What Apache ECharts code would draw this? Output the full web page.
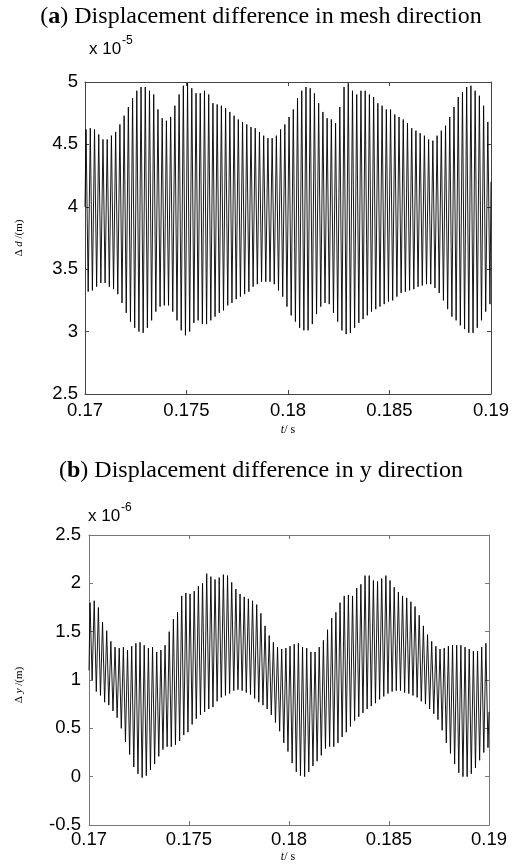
<!DOCTYPE html>
<html><head><meta charset="utf-8">
<script src="https://cdn.jsdelivr.net/npm/echarts@6/dist/echarts.min.js"></script>
<style>html,body{margin:0;padding:0;background:#fff}#c{width:513px;height:865px}</style>
</head><body><div id="c"></div>
<script>
// Time span and tick labels
const tStart = 0.17, tEnd = 0.19;
const xTickLabels = ['0.17', '0.175', '0.18', '0.185', '0.19'];
const meshTickLabels = ['2.5', '3', '3.5', '4', '4.5', '5'];
const yTickLabels = ['-0.5', '0', '0.5', '1', '1.5', '2', '2.5'];

// (a) mesh direction, units of 1e-5 m: one peak and one trough per cycle
const meshStart = 4.0, meshEnd = 4.2;
const meshPeaks = [
  4.62,4.63,4.62,4.58,4.54,4.54,4.57,4.60,4.66,4.73,
  4.80,4.87,4.93,4.96,4.96,4.93,4.90,4.78,4.71,4.69,
  4.72,4.81,4.90,4.97,4.99,4.95,4.91,4.91,4.93,4.90,
  4.83,4.82,4.81,4.79,4.76,4.73,4.70,4.68,4.66,4.64,
  4.63,4.60,4.57,4.55,4.55,4.57,4.62,4.66,4.72,4.78,
  4.87,4.93,4.96,4.95,4.91,4.83,4.76,4.71,4.70,4.67,
  4.80,4.96,4.99,4.93,4.90,4.93,4.93,4.90,4.88,4.83,
  4.81,4.78,4.78,4.74,4.72,4.70,4.67,4.63,4.61,4.59,
  4.57,4.54,4.53,4.57,4.61,4.65,4.72,4.80,4.88,4.92,
  4.96,4.97,4.93,4.89,4.81,4.68
];
const meshTroughs = [
  3.32,3.33,3.36,3.39,3.39,3.36,3.34,3.30,3.23,3.15,
  3.08,3.03,3.00,2.99,3.03,3.09,3.16,3.20,3.21,3.21,
  3.16,3.09,3.01,2.97,3.00,3.07,3.09,3.06,3.06,3.09,
  3.12,3.15,3.17,3.21,3.23,3.26,3.28,3.30,3.32,3.36,
  3.38,3.40,3.40,3.40,3.38,3.33,3.28,3.20,3.13,3.08,
  3.03,3.01,3.01,3.06,3.14,3.20,3.23,3.22,3.15,3.08,
  3.01,2.98,2.99,3.03,3.07,3.10,3.13,3.16,3.18,3.20,
  3.22,3.24,3.25,3.28,3.31,3.32,3.33,3.34,3.36,3.37,
  3.38,3.38,3.35,3.31,3.25,3.18,3.12,3.09,3.05,3.02,
  2.99,2.99,3.03,3.09,3.16,3.22
];

// (b) y direction, units of 1e-6 m
const yStart = 1.1, yEnd = 0.67;
const yPeaks = [
  1.80,1.82,1.75,1.60,1.51,1.40,1.34,1.33,1.34,1.31,
  1.35,1.38,1.39,1.36,1.33,1.34,1.29,1.31,1.36,1.50,
  1.63,1.70,1.87,1.90,1.89,1.92,1.97,2.00,2.10,2.07,
  2.04,2.06,2.09,2.08,2.01,1.94,1.89,1.86,1.84,1.82,
  1.78,1.69,1.56,1.46,1.39,1.34,1.32,1.33,1.35,1.37,
  1.38,1.34,1.33,1.29,1.29,1.34,1.41,1.52,1.64,1.70,
  1.80,1.87,1.88,1.87,1.95,1.99,2.08,2.08,2.03,2.02,
  2.05,2.08,2.03,1.96,1.91,1.87,1.85,1.81,1.76,1.67,
  1.56,1.47,1.40,1.35,1.32,1.33,1.35,1.36,1.36,1.36,
  1.34,1.32,1.30,1.30,1.34,1.38
];
const yTroughs = [
  1.00,0.88,0.84,0.77,0.74,0.68,0.61,0.50,0.36,0.23,
  0.10,0.03,-0.01,0.01,0.07,0.13,0.21,0.28,0.31,0.31,
  0.33,0.37,0.43,0.46,0.54,0.60,0.64,0.67,0.70,0.72,
  0.78,0.82,0.84,0.86,0.89,0.90,0.89,0.87,0.85,0.81,
  0.77,0.74,0.70,0.64,0.56,0.47,0.35,0.26,0.14,0.05,
  0.01,0.00,0.05,0.11,0.16,0.22,0.29,0.31,0.31,0.35,
  0.41,0.46,0.52,0.58,0.62,0.66,0.70,0.73,0.76,0.80,
  0.83,0.86,0.88,0.89,0.89,0.87,0.86,0.84,0.82,0.78,
  0.75,0.70,0.65,0.59,0.48,0.35,0.24,0.13,0.04,0.00,
  0.00,0.03,0.09,0.17,0.25,0.30
];

function build(start, peaks, troughs, end) {
  const n = peaks.length, P = (tEnd - tStart) / n;
  const d = [[tStart, start]];
  for (let i = 0; i < n; i++) {
    d.push([tStart + (i + 0.25) * P, peaks[i]]);
    d.push([tStart + (i + 0.75) * P, troughs[i]]);
  }
  d.push([tEnd, end]);
  return d;
}

const labelFont = { fontFamily: 'Liberation Sans, Arial, sans-serif', fontSize: 18.5, color: '#000' };

function xAxes(gridIndex, lineColor, margin) {
  const base = {
    type: 'value', gridIndex, min: tStart, max: tEnd, interval: 0.005,
    axisLine: { show: true, onZero: false, lineStyle: { color: lineColor, width: 1 } },
    axisTick: { show: true, inside: true, length: 4, lineStyle: { color: lineColor } },
    splitLine: { show: false }
  };
  return [
    Object.assign({}, base, { position: 'bottom',
      axisLabel: Object.assign({ margin, formatter: v => xTickLabels.find(s => Math.abs(parseFloat(s) - v) < 1e-6) || '' }, labelFont) }),
    Object.assign({}, base, { position: 'top', axisLabel: { show: false } })
  ];
}
function yAxes(gridIndex, min, max, labels, lineColor, margin) {
  const base = {
    type: 'value', gridIndex, min, max, interval: 0.5,
    axisLine: { show: true, onZero: false, lineStyle: { color: lineColor, width: 1 } },
    axisTick: { show: true, inside: true, length: 4, lineStyle: { color: lineColor } },
    splitLine: { show: false }
  };
  return [
    Object.assign({}, base, { position: 'left',
      axisLabel: Object.assign({ margin, formatter: v => labels.find(s => Math.abs(parseFloat(s) - v) < 1e-6) || '' }, labelFont) }),
    Object.assign({}, base, { position: 'right', axisLabel: { show: false } })
  ];
}

const serif = 'Liberation Serif, Times New Roman, serif';
const sans = 'Liberation Sans, Arial, sans-serif';
const chart = echarts.init(document.getElementById('c'), null, { renderer: 'canvas' });
chart.setOption({
  animation: false,
  backgroundColor: '#fff',
  grid: [
    { left: 85, top: 82, width: 406, height: 312 },
    { left: 89, top: 535, width: 400, height: 290 }
  ],
  xAxis: [].concat(xAxes(0, '#444', 7), xAxes(1, '#777', 5)),
  yAxis: [].concat(yAxes(0, 2.5, 5, meshTickLabels, '#444', 7), yAxes(1, -0.5, 2.5, yTickLabels, '#777', 8)),
  series: [
    { type: 'line', xAxisIndex: 0, yAxisIndex: 0, data: build(meshStart, meshPeaks, meshTroughs, meshEnd),
      showSymbol: false, symbol: 'none', sampling: null, lineStyle: { color: '#000', width: 0.9 } },
    { type: 'line', xAxisIndex: 2, yAxisIndex: 2, data: build(yStart, yPeaks, yTroughs, yEnd),
      showSymbol: false, symbol: 'none', sampling: null, lineStyle: { color: '#000', width: 0.9 } }
  ],
  graphic: [
    { type: 'text', x: 261, y: 17, style: {
      text: '({b|a}) Displacement difference in mesh direction',
      font: '24px ' + serif, fill: '#000', align: 'center', verticalAlign: 'middle',
      rich: { b: { fontWeight: 'bold', fontSize: 24, fontFamily: serif } } } },
    { type: 'text', x: 261, y: 471, style: {
      text: '({b|b}) Displacement difference in y direction',
      font: '24px ' + serif, fill: '#000', align: 'center', verticalAlign: 'middle',
      rich: { b: { fontWeight: 'bold', fontSize: 24, fontFamily: serif } } } },
    { type: 'text', x: 89, y: 41, style: { text: 'x 10', font: '17px ' + sans, fill: '#000' } },
    { type: 'text', x: 122, y: 35, style: { text: '-5', font: '12px ' + sans, fill: '#000' } },
    { type: 'text', x: 88, y: 508, style: { text: 'x 10', font: '17px ' + sans, fill: '#000' } },
    { type: 'text', x: 121, y: 502, style: { text: '-6', font: '12px ' + sans, fill: '#000' } },
    { type: 'text', x: 19, y: 238, rotation: Math.PI / 2, style: {
      text: 'Δ {i|d} /(m)', font: '11px ' + serif, fill: '#000', align: 'center', verticalAlign: 'middle',
      rich: { i: { fontStyle: 'italic', fontSize: 11, fontFamily: serif } } } },
    { type: 'text', x: 19, y: 685, rotation: Math.PI / 2, style: {
      text: 'Δ {i|y} /(m)', font: '11px ' + serif, fill: '#000', align: 'center', verticalAlign: 'middle',
      rich: { i: { fontStyle: 'italic', fontSize: 11, fontFamily: serif } } } },
    { type: 'text', x: 288, y: 430, style: {
      text: '{i|t}/ s', font: '12px ' + serif, fill: '#000', align: 'center', verticalAlign: 'middle',
      rich: { i: { fontStyle: 'italic', fontSize: 12, fontFamily: serif } } } },
    { type: 'text', x: 288, y: 857, style: {
      text: '{i|t}/ s', font: '12px ' + serif, fill: '#000', align: 'center', verticalAlign: 'middle',
      rich: { i: { fontStyle: 'italic', fontSize: 12, fontFamily: serif } } } }
  ]
});
</script>
</body></html>
